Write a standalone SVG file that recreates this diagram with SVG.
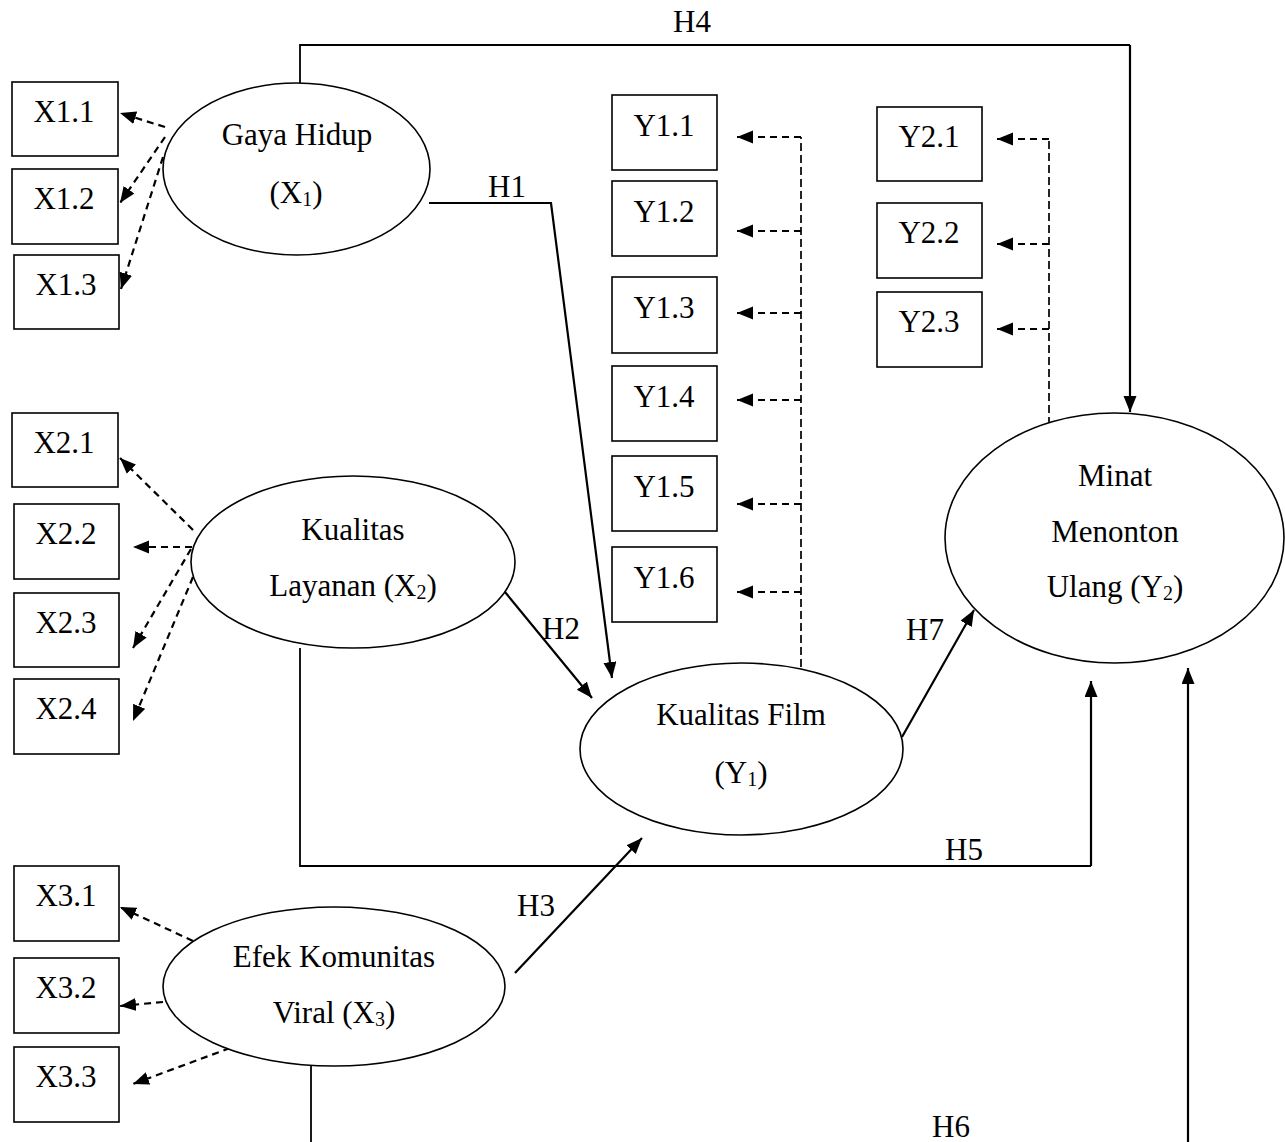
<svg xmlns="http://www.w3.org/2000/svg" width="1285" height="1142" viewBox="0 0 1285 1142">
<style>
text{font-family:"Liberation Serif","Times New Roman",serif;font-size:31px;fill:#000}
.c{text-anchor:middle}
.sub{font-size:20px}
.box{fill:#fff;stroke:#000;stroke-width:1.6}
.ell{fill:#fff;stroke:#000;stroke-width:1.6}
.sol{fill:none;stroke:#000;stroke-width:2.2;marker-end:url(#ah)}
.plain{fill:none;stroke:#000;stroke-width:1.8}
.dasha{fill:none;stroke:#000;stroke-width:2.2;stroke-dasharray:7 5;marker-end:url(#ah)}
.dashl{fill:none;stroke:#000;stroke-width:1.7;stroke-dasharray:8 4}
</style>
<defs>
<marker id="ah" markerUnits="userSpaceOnUse" markerWidth="17" markerHeight="14" refX="16" refY="6.5" orient="auto">
<path d="M0,0 L16,6.5 L0,13 z" fill="#000"/>
</marker>
</defs>
<rect width="1285" height="1142" fill="#fff"/>

<g id="connectors">
<path class="plain" d="M300,83 L300,45 L1130,45"/>
<path class="sol" d="M1130,45 L1130,412"/>
<path class="sol" d="M429,203 L551,203 L612,678"/>
<path class="sol" d="M505,592 L592,698"/>
<path class="plain" d="M300,648 L300,866 L1091,866"/>
<path class="sol" d="M1091,866 L1091,681"/>
<path class="sol" d="M515,973 L642,838"/>
<path class="sol" d="M902,737 L974,610"/>
<path class="plain" d="M311,1066 L311,1142"/>
<path class="sol" d="M1188,1142 L1188,668"/>

<path class="dasha" d="M165,127 L120,113"/>
<path class="dasha" d="M165,137 L120,203"/>
<path class="dasha" d="M163,157 L121,289"/>
<path class="dasha" d="M193,530 L120,458"/>
<path class="dasha" d="M192,547 L133,547"/>
<path class="dasha" d="M191,549 L133,648"/>
<path class="dasha" d="M193,577 L133,721"/>
<path class="dasha" d="M193,941 L120,907"/>
<path class="dasha" d="M163,1002 L120,1006"/>
<path class="dasha" d="M230,1048 L133,1084"/>

<path class="dashl" d="M801,667 L801,137"/>
<path class="dasha" d="M801,137 L737,137"/>
<path class="dasha" d="M801,231 L737,231"/>
<path class="dasha" d="M801,313 L737,313"/>
<path class="dasha" d="M801,400 L737,400"/>
<path class="dasha" d="M801,504 L737,504"/>
<path class="dasha" d="M801,592 L737,592"/>

<path class="dashl" d="M1049,425 L1049,139"/>
<path class="dasha" d="M1049,139 L997,139"/>
<path class="dasha" d="M1049,244 L997,244"/>
<path class="dasha" d="M1049,329 L997,329"/>

<text x="673" y="32">H4</text>
<text x="488" y="197">H1</text>
<text x="542" y="639">H2</text>
<text x="906" y="640">H7</text>
<text x="945" y="860">H5</text>
<text x="517" y="916">H3</text>
<text x="932" y="1137">H6</text>
</g>

<g id="gaya-hidup">
<ellipse class="ell" cx="296.5" cy="169" rx="133.5" ry="86"/>
<text class="c" x="297" y="145">Gaya Hidup</text>
<text class="c" x="296" y="203">(X<tspan class="sub" dy="3">1</tspan><tspan dy="-3">)</tspan></text>
</g>
<g id="kualitas-layanan">
<ellipse class="ell" cx="353" cy="562" rx="162" ry="86"/>
<text class="c" x="353" y="540">Kualitas</text>
<text class="c" x="353" y="596">Layanan (X<tspan class="sub" dy="3">2</tspan><tspan dy="-3">)</tspan></text>
</g>
<g id="efek-komunitas">
<ellipse class="ell" cx="334" cy="986.5" rx="171" ry="79.5"/>
<text class="c" x="334" y="967">Efek Komunitas</text>
<text class="c" x="334" y="1023">Viral (X<tspan class="sub" dy="3">3</tspan><tspan dy="-3">)</tspan></text>
</g>
<g id="kualitas-film">
<ellipse class="ell" cx="741.5" cy="749" rx="161.5" ry="86"/>
<text class="c" x="741" y="725">Kualitas Film</text>
<text class="c" x="741" y="783">(Y<tspan class="sub" dy="3">1</tspan><tspan dy="-3">)</tspan></text>
</g>
<g id="minat-menonton">
<ellipse class="ell" cx="1114.5" cy="538" rx="169.5" ry="125"/>
<text class="c" x="1115" y="486">Minat</text>
<text class="c" x="1115" y="542">Menonton</text>
<text class="c" x="1115" y="597">Ulang (Y<tspan class="sub" dy="3">2</tspan><tspan dy="-3">)</tspan></text>
</g>

<g id="X1.1"><rect class="box" x="12" y="82" width="106" height="74"/><text class="c" x="64" y="122">X1.1</text></g>
<g id="X1.2"><rect class="box" x="12" y="169" width="106" height="75"/><text class="c" x="64" y="209">X1.2</text></g>
<g id="X1.3"><rect class="box" x="14" y="255" width="105" height="74"/><text class="c" x="66" y="295">X1.3</text></g>
<g id="X2.1"><rect class="box" x="12" y="413" width="106" height="74"/><text class="c" x="64" y="453">X2.1</text></g>
<g id="X2.2"><rect class="box" x="14" y="504" width="105" height="75"/><text class="c" x="66" y="544">X2.2</text></g>
<g id="X2.3"><rect class="box" x="14" y="593" width="105" height="74"/><text class="c" x="66" y="633">X2.3</text></g>
<g id="X2.4"><rect class="box" x="14" y="679" width="105" height="75"/><text class="c" x="66" y="719">X2.4</text></g>
<g id="X3.1"><rect class="box" x="14" y="866" width="105" height="75"/><text class="c" x="66" y="906">X3.1</text></g>
<g id="X3.2"><rect class="box" x="14" y="958" width="105" height="75"/><text class="c" x="66" y="998">X3.2</text></g>
<g id="X3.3"><rect class="box" x="14" y="1047" width="105" height="75"/><text class="c" x="66" y="1087">X3.3</text></g>
<g id="Y1.1"><rect class="box" x="612" y="95" width="105" height="75"/><text class="c" x="664" y="136">Y1.1</text></g>
<g id="Y1.2"><rect class="box" x="612" y="181" width="105" height="75"/><text class="c" x="664" y="222">Y1.2</text></g>
<g id="Y1.3"><rect class="box" x="612" y="277" width="105" height="76"/><text class="c" x="664" y="318">Y1.3</text></g>
<g id="Y1.4"><rect class="box" x="612" y="366" width="105" height="75"/><text class="c" x="664" y="407">Y1.4</text></g>
<g id="Y1.5"><rect class="box" x="612" y="456" width="105" height="75"/><text class="c" x="664" y="497">Y1.5</text></g>
<g id="Y1.6"><rect class="box" x="612" y="547" width="105" height="75"/><text class="c" x="664" y="588">Y1.6</text></g>
<g id="Y2.1"><rect class="box" x="877" y="107" width="105" height="74"/><text class="c" x="929" y="147">Y2.1</text></g>
<g id="Y2.2"><rect class="box" x="877" y="203" width="105" height="75"/><text class="c" x="929" y="243">Y2.2</text></g>
<g id="Y2.3"><rect class="box" x="877" y="292" width="105" height="75"/><text class="c" x="929" y="332">Y2.3</text></g>
</svg>
